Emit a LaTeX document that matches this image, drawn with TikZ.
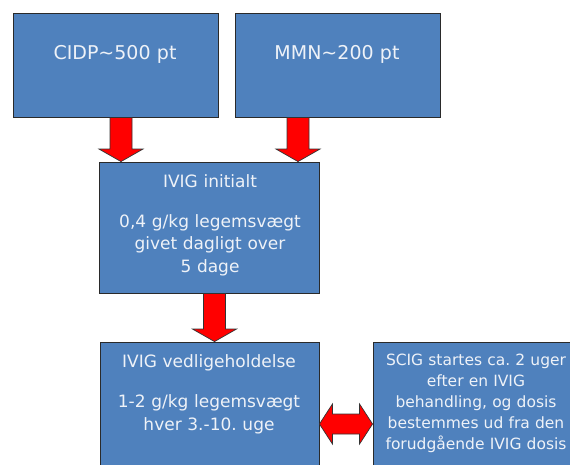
\documentclass[tikz,border=0pt]{standalone}
\usepackage{fontspec}
\setmainfont{DejaVu Sans}
\usetikzlibrary{calc}
\definecolor{boxblue}{HTML}{4F81BD}
\definecolor{boxline}{HTML}{2A2A2A}
\definecolor{txtcol}{HTML}{EEF2F8}
\definecolor{arrred}{HTML}{FF0000}
\tikzset{
  box/.style={rectangle, draw=boxline, line width=0.9pt, fill=boxblue, inner sep=0pt},
  bigtxt/.style={text=txtcol, align=center, anchor=base, inner sep=0pt, font=\fontsize{19}{23}\selectfont\frenchspacing},
  midtxt/.style={text=txtcol, align=center, anchor=base, inner sep=0pt, font=\fontsize{17}{22.5}\selectfont\frenchspacing},
  smalltxt/.style={text=txtcol, align=center, anchor=base, inner sep=0pt, font=\fontsize{15.5}{21}\selectfont\frenchspacing},
  redarr/.style={fill=arrred, draw=black!80, line width=0.7pt, line join=miter}
}
\newcommand{\redarrowdown}[2]{%
  \draw[redarr] let \p1=(#1), \p2=(#2) in
    (\x1-11pt,\y1) -- (\x1-11pt,\y2+12.5pt) -- (\x1-22pt,\y2+12.5pt) -- (\x1,\y2)
    -- (\x1+22pt,\y2+12.5pt) -- (\x1+11pt,\y2+12.5pt) -- (\x1+11pt,\y1) -- cycle;}
\begin{document}
\frenchspacing
\begin{tikzpicture}[x=1pt,y=-1pt]
\useasboundingbox (0,0) rectangle (570,464);
\clip (0,0) rectangle (570,464);
\fill[white] (0,0) rectangle (570,464);
% boxes
\node[box, minimum width=205pt, minimum height=104pt] (cidp) at (115.5,65) {};
\node[box, minimum width=205pt, minimum height=104pt] (mmn) at (337.5,65) {};
\node[box, minimum width=220pt, minimum height=131pt] (ivig1) at (209,227.5) {};
\node[box, minimum width=219pt, minimum height=140pt] (ivig2) at (209.5,412) {};
\node[box, minimum width=210pt, minimum height=140pt] (scig) at (478,412) {};
% texts
\node[bigtxt, text width=200pt] (cidpT) at (115,59) {CIDP\textasciitilde500 pt};
\node[bigtxt, text width=200pt] (mmnT) at (337,59) {MMN\textasciitilde200 pt};
\node[midtxt, text width=215pt] (ivig1T) at (210,187) {IVIG initialt\\[17.5pt]0,4 g/kg legemsvægt\\givet dagligt over\\5 dage};
\node[midtxt, text width=215pt] (ivig2T) at (209,367) {IVIG vedligeholdelse\\[18pt]1-2 g/kg legemsvægt\\hver 3.-10. uge};
\node[smalltxt, text width=200pt] (scigT) at (476,365) {SCIG startes ca. 2 uger\\efter en IVIG\\behandling, og dosis\\bestemmes ud fra den\\forudgående IVIG dosis};
% arrows
\coordinate (a1s) at ([xshift=5.5pt]cidp.south);
\coordinate (a1e) at (a1s |- ivig1.north);
\coordinate (a2s) at ([xshift=-39.5pt]mmn.south);
\coordinate (a2e) at (a2s |- ivig1.north);
\coordinate (a3s) at ([xshift=5.5pt]ivig1.south);
\coordinate (a3e) at (a3s |- ivig2.north);
\redarrowdown{a1s}{a1e}
\redarrowdown{a2s}{a2e}
\redarrowdown{a3s}{a3e}
% double arrow
\coordinate (dl) at ([yshift=-12pt]ivig2.east);
\coordinate (dr) at (dl -| scig.west);
\draw[redarr] let \p1=(dl), \p2=(dr) in
  (\x1,\y1) -- (\x1+13pt,\y1+20pt) -- (\x1+13pt,\y1+10pt) -- (\x2-13pt,\y1+10pt)
  -- (\x2-13pt,\y1+20pt) -- (\x2,\y1) -- (\x2-13pt,\y1-20pt) -- (\x2-13pt,\y1-10pt)
  -- (\x1+13pt,\y1-10pt) -- (\x1+13pt,\y1-20pt) -- cycle;
\end{tikzpicture}
\end{document}
